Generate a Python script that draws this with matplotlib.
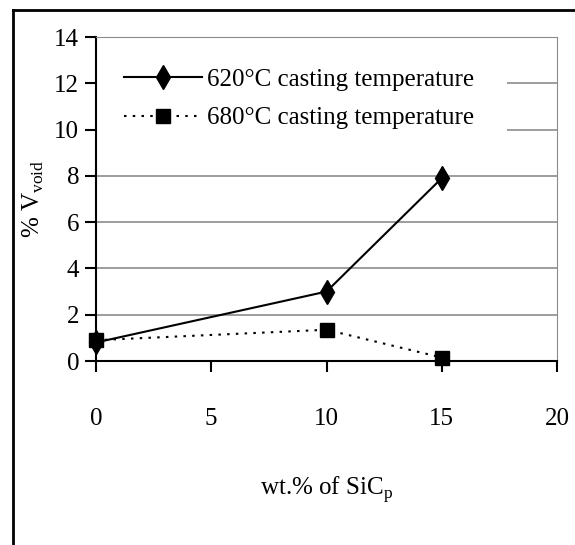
import matplotlib
matplotlib.use("Agg")
import matplotlib.pyplot as plt
from matplotlib.lines import Line2D
from matplotlib.patches import Rectangle

x_vals = [0, 10, 15]
s620 = [0.8, 3.0, 7.9]
s680 = [0.9, 1.35, 0.15]
labels = ["620\u00b0C casting temperature", "680\u00b0C casting temperature"]
xticks = [0, 5, 10, 15, 20]
yticks = [0, 2, 4, 6, 8, 10, 12, 14]

plt.rcParams['font.family'] = ['Liberation Serif', 'DejaVu Serif']
plt.rcParams['mathtext.fontset'] = 'custom'
plt.rcParams['mathtext.rm'] = 'Liberation Serif'

fig = plt.figure(figsize=(5.75, 5.45), dpi=100)
# outer frame lines (left and top)
fig.add_artist(Line2D([13/575, 13/575], [0, 1 - 10/545], color='black', lw=2, transform=fig.transFigure))
fig.add_artist(Line2D([13/575, 1], [1 - 10/545, 1 - 10/545], color='black', lw=2, transform=fig.transFigure))

L, R, T, B = 96, 557, 37, 361
ax = fig.add_axes([L/575, 1 - B/545, (R - L)/575, (B - T)/545])
ax.set_xlim(0, 20)
ax.set_ylim(0, 14)
ax.set_xticks(xticks)
ax.set_yticks(yticks)
ax.yaxis.grid(True, color='#8c8c8c', lw=1.2)
ax.set_axisbelow(True)
for s in ['top', 'right']:
    ax.spines[s].set_color('#8c8c8c')
ax.spines['bottom'].set_color('black')
ax.spines['left'].set_color('black')
ax.spines['bottom'].set_linewidth(1.5)
ax.spines['left'].set_linewidth(1.5)
ax.tick_params(axis='both', direction='out', length=8, width=1.5, labelsize=18)
ax.tick_params(axis='x', pad=26)
ax.tick_params(axis='y', pad=4)

# white legend area hiding the gridlines behind it
ax.add_patch(Rectangle((0.003, 0.67), 0.888, 0.32, transform=ax.transAxes,
                       facecolor='white', edgecolor='none', zorder=1))

ax.plot(x_vals, s620, color='black', lw=1.5, marker='d', markersize=12, clip_on=False,
        label=labels[0], zorder=3)
ax.plot(x_vals, s680, color='black', lw=1.5, ls=(0, (1.2, 3)), marker='s', markersize=10,
        clip_on=False, label=labels[1], zorder=3)

leg = ax.legend(loc='upper left', bbox_to_anchor=(0.045, 0.927), frameon=False, fontsize=18,
                handlelength=3.1, handletextpad=0.2, labelspacing=0.65, borderaxespad=0,
                borderpad=0.3)

ax.set_xlabel(r'wt.% of SiC$_{\mathrm{p}}$', fontsize=18, labelpad=32)
ax.set_ylabel(r'% V$_{\mathrm{void}}$', fontsize=18, labelpad=6)

fig.savefig('out.png', dpi=100)
